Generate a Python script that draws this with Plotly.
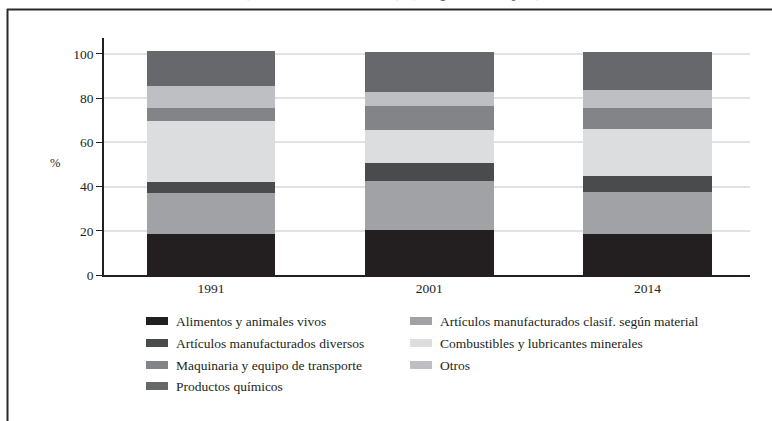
import plotly.graph_objects as go

years = ["1991", "2001", "2014"]
series_names = [
    "Alimentos y animales vivos",
    "Artículos manufacturados clasif. según material",
    "Artículos manufacturados diversos",
    "Combustibles y lubricantes minerales",
    "Maquinaria y equipo de transporte",
    "Otros",
    "Productos químicos",
]
alimentos = [18.6, 20.4, 18.6]
art_clasif = [18.5, 22.1, 19.0]
art_diversos = [5.0, 8.2, 7.2]
combustibles = [27.6, 14.9, 21.3]
maquinaria = [6.0, 10.9, 9.5]
otros = [10.0, 6.3, 8.1]
quimicos = [15.4, 18.2, 17.3]
series_values = [alimentos, art_clasif, art_diversos, combustibles, maquinaria, otros, quimicos]
colors = ["#231f20", "#a1a2a5", "#4a4b4d", "#dcdddf", "#838488", "#bebfc2", "#67686b"]
y_ticks = [0, 20, 40, 60, 80, 100]

FONT = "Liberation Serif"
W, H = 772, 421
L, R, T, B = 104, 750, 38, 275


def px_x(px):
    return (px - L) / (R - L)


def px_y(py):
    return (B - py) / (B - T)


fig = go.Figure()
for name, vals, col in zip(series_names, series_values, colors):
    fig.add_trace(go.Bar(x=years, y=vals, name=name, marker=dict(color=col, line=dict(width=0)),
                         showlegend=False))

shapes = []
annotations = []

# manual legend (2 columns, row-wise order)
col_sw = [146, 410]
row_y = [321, 343, 365, 386]
for i, (name, col) in enumerate(zip(series_names, colors)):
    c = i % 2
    r = i // 2
    x0 = col_sw[c]
    yc = row_y[r]
    shapes.append(dict(type="rect", xref="paper", yref="paper",
                       x0=px_x(x0), x1=px_x(x0 + 22), y0=px_y(yc + 4), y1=px_y(yc - 4),
                       fillcolor=col, line=dict(width=0)))
    annotations.append(dict(xref="paper", yref="paper", x=px_x(x0 + 28), y=px_y(yc),
                            xanchor="left", yanchor="middle", showarrow=False, text=name,
                            font=dict(family=FONT, size=13.5, color="#231f20")))

# % label
annotations.append(dict(xref="paper", yref="paper", x=px_x(55), y=px_y(163),
                        xanchor="center", yanchor="middle", showarrow=False, text="%",
                        font=dict(family=FONT, size=12.5, color="#231f20")))

# partially cut title at the very top (as in the reference)
annotations.append(dict(xref="paper", yref="paper", x=px_x(392), y=px_y(-10.5),
                        xanchor="center", yanchor="middle", showarrow=False,
                        text="(1991, 2001, 2014) (en porcentajes)",
                        font=dict(family=FONT, size=21, color="#6a6a6a")))

# frame
shapes.append(dict(type="line", xref="paper", yref="paper", x0=px_x(7), x1=px_x(780),
                   y0=px_y(9.5), y1=px_y(9.5), line=dict(color="#2a2a2a", width=2)))
shapes.append(dict(type="line", xref="paper", yref="paper", x0=px_x(7.5), x1=px_x(7.5),
                   y0=px_y(9), y1=px_y(430), line=dict(color="#2a2a2a", width=2)))

fig.update_layout(
    barmode="stack",
    bargap=0.41,
    width=W, height=H,
    margin=dict(l=L, r=W - R, t=T, b=H - B, pad=0),
    plot_bgcolor="white", paper_bgcolor="white",
    font=dict(family=FONT, size=13.5, color="#231f20"),
    shapes=shapes,
    annotations=annotations,
    xaxis=dict(range=[-0.49, 2.47], showline=True, linecolor="#231f20", linewidth=1.5,
               ticks="", tickfont=dict(family=FONT, size=13.5, color="#231f20"),
               showgrid=False, zeroline=False),
    yaxis=dict(range=[0, 107.2], tickvals=y_ticks, showline=True, linecolor="#231f20",
               linewidth=1.5, ticks="outside", ticklen=6, tickcolor="#231f20", tickwidth=1.3,
               showgrid=True, gridcolor="#e2e2e2", gridwidth=1.5, zeroline=False,
               tickfont=dict(family=FONT, size=13.5, color="#231f20")),
)

fig.write_html("out.html", config={"displayModeBar": False},
               post_script="document.body.style.margin='0';document.body.style.overflow='hidden';")
